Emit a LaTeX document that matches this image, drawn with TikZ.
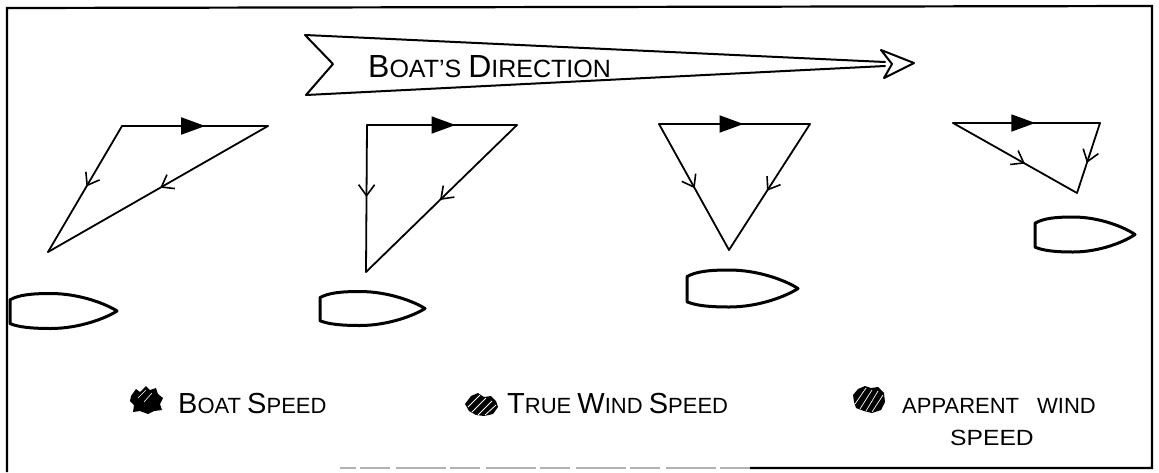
\documentclass[tikz,border=0pt]{standalone}
\usepackage{fontspec}
\setmainfont{Liberation Sans}
\usetikzlibrary{decorations.markings,arrows.meta}
\newcommand{\BigCap}[1]{{\fontsize{29}{29}\selectfont #1}}
\newcommand{\TitleCap}[1]{{\fontsize{32}{32}\selectfont #1}}
\newcommand{\legfont}{\fontsize{22}{22}\selectfont}
\newcommand{\titlefont}{\fontsize{25}{25}\selectfont}
\tikzset{
  vec/.style={line width=1.8pt, line join=round, line cap=round},
  fillarrow/.style={postaction={decorate,decoration={markings,
      mark=at position #1 with {\arrow{Triangle[length=24pt,width=17pt]}}}}},
  openarrow/.style={postaction={decorate,decoration={markings,
      mark=at position #1 with {\arrow{Straight Barb[length=11pt,width=16pt,line width=1.6pt]}}}}},
  boatline/.style={line width=3pt, line join=round},
  boat/.pic={\draw[boatline] (0,-0.32) .. controls (0.08,-0.46) and (0.2,-0.5) .. (0.38,-0.5)
      .. controls (0.65,-0.5) and (0.9,-0.2) .. (1,0)
      .. controls (0.9,0.2) and (0.65,0.5) .. (0.38,0.5)
      .. controls (0.2,0.5) and (0.08,0.46) .. (0,0.36) -- cycle;},
  legtext/.style={anchor=base west, inner sep=0pt, font=\legfont},
  frame/.style={line width=2.2pt}
}
\begin{document}
\begin{tikzpicture}[x=1pt,y=-1pt]
\useasboundingbox (0,0) rectangle (1159,472);
% frame
\draw[frame] (7,472) -- (7,8) -- (1152,6) -- (1152,468) -- (750,468);
\draw[frame, gray!60, dash pattern=on 30pt off 4pt on 50pt off 6pt] (750,468) -- (340,468);

% banner
\coordinate (bTL) at (305,35);
\coordinate (bN) at (333,64);
\coordinate (bBL) at (306,95);
\coordinate (bT) at (885,62);
\coordinate (bB) at (885,66);
\draw[vec, line width=2pt] (bT) -- (bTL) -- (bN) -- (bBL) -- (bB);
\draw[vec, line width=2pt] (881,50) -- (914,63) -- (884,78) -- (892,64) -- cycle;
\node[legtext, font=\titlefont] (dir) at (368,77) {\TitleCap{B}OAT'S \TitleCap{D}IRECTION};

% triangle 1
\coordinate (a1) at (122,126); \coordinate (b1) at (268,126); \coordinate (c1) at (48,252);
\draw[vec, fillarrow=0.57] (a1) -- (b1);
\draw[vec, openarrow=0.48] (a1) -- (c1);
\draw[vec, openarrow=0.49] (b1) -- (c1);
% triangle 2
\coordinate (a2) at (367,125); \coordinate (b2) at (517,125); \coordinate (c2) at (366,272);
\draw[vec, fillarrow=0.59] (a2) -- (b2);
\draw[vec, openarrow=0.49] (a2) -- (c2);
\draw[vec, openarrow=0.51] (b2) -- (c2);
% triangle 3
\coordinate (a3) at (659,124); \coordinate (b3) at (810,124); \coordinate (c3) at (729,250);
\draw[vec, fillarrow=0.56] (a3) -- (b3);
\draw[vec, openarrow=0.51] (a3) -- (c3);
\draw[vec, openarrow=0.53] (b3) -- (c3);
% triangle 4
\coordinate (a4) at (953,123); \coordinate (b4) at (1100,123); \coordinate (c4) at (1077,193);
\draw[vec, fillarrow=0.56] (a4) -- (b4);
\draw[vec, openarrow=0.58] (a4) -- (c4);
\draw[vec, openarrow=0.57] (b4) -- (c4);

% boats
\pic[xscale=107, yscale=35] at (10,311) {boat};
\pic[xscale=105, yscale=34] at (320,308.5) {boat};
\pic[xscale=111, yscale=37] at (687,288.5) {boat};
\pic[xscale=100, yscale=35] at (1035,234.5) {boat};

% legend blobs
\fill (131,396) -- (136,389) -- (140,392) -- (146,386) -- (150,390) -- (156,388) -- (158,394) -- (163,398) -- (160,404) -- (162,410) -- (154,411) -- (148,414) -- (140,411) -- (133,412) -- (134,405) -- (130,401) -- cycle;
\draw[white, line width=0.6pt] (138,398) -- (146,390) (144,402) -- (152,393);
\fill (465,404) -- (471,396) -- (478,393) -- (484,397) -- (491,396) -- (496,401) -- (498,407) -- (493,414) -- (484,416) -- (476,415) -- (469,411) -- cycle;
\draw[white, line width=0.8pt] (468,407) -- (480,395) (472,412) -- (486,398) (478,415) -- (492,401) (485,415) -- (496,405);
\fill (853,395) -- (858,389) -- (865,386) -- (871,388) -- (878,387) -- (884,393) -- (885,402) -- (881,410) -- (872,413) -- (864,411) -- (856,408) -- (854,402) -- cycle;
\draw[white, line width=0.7pt] (855,404) -- (866,388) (860,409) -- (872,390) (866,411) -- (878,391) (872,412) -- (883,395);

% legend text
\node[legtext] (bs) at (178,413) {\BigCap{B}OAT \BigCap{S}PEED};
\node[legtext] (tw) at (507,413) {\BigCap{T}RUE \BigCap{W}IND \BigCap{S}PEED};
\node[legtext] (aw) at (902,413) {APPARENT\hspace{18pt}WIND};
\node[legtext] (aw2) at (950,445) {\scalebox{1.12}[1]{SPEED}};
\end{tikzpicture}
\end{document}
